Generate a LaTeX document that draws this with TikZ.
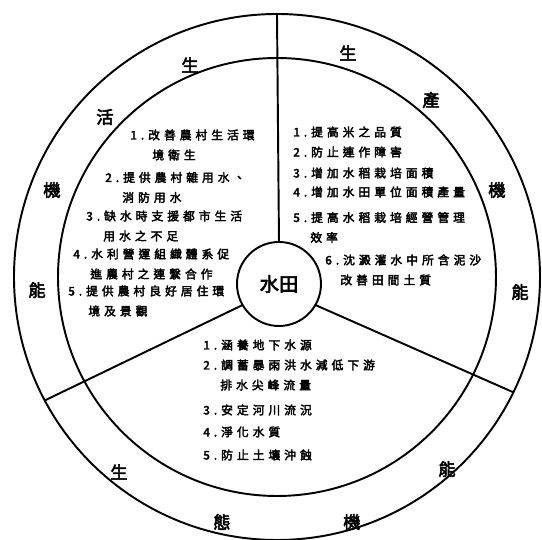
\documentclass[tikz,border=0pt]{standalone}
\usepackage{fontspec}
\newfontfamily\cjk[LetterSpace=34,FakeBold=3]{Noto Sans CJK TC}
\newfontfamily\cjkbig[FakeBold=3]{Noto Sans CJK TC}

\begin{document}
\begin{tikzpicture}[
    ring/.style={
        draw=black,
        circle,
        line width=1.1pt,
        inner sep=0pt,
        outer sep=0pt
    },
    item/.style={
        anchor=west,
        inner sep=0pt,
        align=left,
        font=\cjk\fontsize{6.7}{11.4}\selectfont
    },
    band/.style={
        inner sep=0pt,
        font=\cjkbig\fontsize{9.8}{9.8}\selectfont
    },
    sep/.style={line width=1.1pt}
]
\useasboundingbox (-5.54,-5.26) rectangle (5.30,5.54);

% rings
\node[ring, minimum size=10.52cm] (outer) at (0,0) {};
\node[ring, minimum size=8.76cm] (inner) at (0,0) {};
\node[ring, minimum size=1.68cm, font=\cjkbig\fontsize{11}{11}\selectfont] (hub) at (0.04,-0.14) {水田};

\draw[sep] (hub.north) -- (outer.north);
\draw[sep] (hub.210) -- (outer.208);
\draw[sep] (hub.330) -- (outer.334);

% ring labels
\node[band] (lifeA) at (-1.74,4.24) {生};
\node[band] (lifeB) at (-3.44,3.20) {活};
\node[band] (lifeC) at (-4.50,1.74) {機};
\node[band] (lifeD) at (-4.80,-0.26) {能};
\node[band] (prodA) at (1.42,4.48) {生};
\node[band] (prodB) at (3.08,3.54) {產};
\node[band] (prodC) at (4.40,1.74) {機};
\node[band] (prodD) at (4.86,-0.30) {能};
\node[band] (ecoA) at (-3.16,-3.90) {生};
\node[band] (ecoB) at (-1.10,-4.90) {態};
\node[band] (ecoC) at (1.50,-4.90) {機};
\node[band] (ecoD) at (3.40,-3.84) {能};

% life sector
\node[item] (l1) at (-2.94,2.64) {1.改善農村生活環\\\hspace*{0.44cm}境衛生};
\node[item] (l2) at (-3.44,1.79) {2.提供農村雜用水、\\\hspace*{0.34cm}消防用水};
\node[item] (l3) at (-3.82,1.02) {3.缺水時支援都市生活\\\hspace*{0.34cm}用水之不足};
\node[item] (l4) at (-4.08,0.26) {4.水利營運組織體系促\\\hspace*{0.34cm}進農村之連繫合作};
\node[item] (l5) at (-4.18,-0.48) {5.提供農村良好居住環\\\hspace*{0.40cm}境及景觀};

% production sector
\node[item] (p1) at (0.32,2.90) {1.提高米之品質};
\node[item] (p2) at (0.32,2.50) {2.防止連作障害};
\node[item] (p3) at (0.32,2.08) {3.增加水稻栽培面積};
\node[item] (p4) at (0.32,1.70) {4.增加水田單位面積產量};
\node[item] (p5) at (0.32,0.99) {5.提高水稻栽培經營管理\\\hspace*{0.34cm}效率};
\node[item] (p6) at (0.96,0.14) {6.沈澱灌水中所含泥沙\\\hspace*{0.30cm}改善田間土質};

% ecology sector
\node[item] (e1) at (-1.48,-1.36) {1.涵養地下水源};
\node[item] (e2) at (-1.48,-1.96) {2.調蓄暴雨洪水減低下游\\\hspace*{0.34cm}排水尖峰流量};
\node[item] (e3) at (-1.48,-2.66) {3.安定河川流況};
\node[item] (e4) at (-1.48,-3.10) {4.淨化水質};
\node[item] (e5) at (-1.48,-3.56) {5.防止土壤沖蝕};

\end{tikzpicture}
\end{document}
